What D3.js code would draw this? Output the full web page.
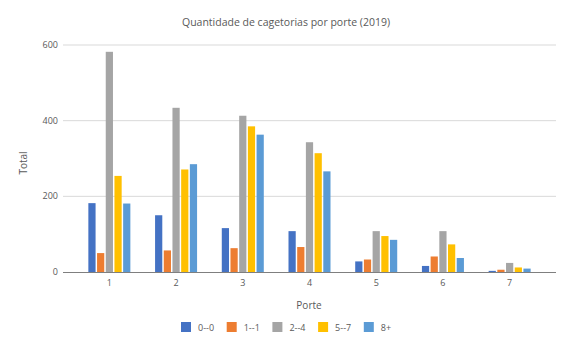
<!DOCTYPE html>
<html>
<head>
<meta charset="utf-8">
<script src="https://cdn.jsdelivr.net/npm/d3@7"></script>
<style>
  body { margin: 0; background: #fff; }
  text { font-family: "Open Sans", sans-serif; fill: #595959; }
</style>
</head>
<body>
<div id="chart"></div>
<script>
(function(){
// categories (porte) and series (faixas)
const portes = ["1", "2", "3", "4", "5", "6", "7"];
const series = ["0--0", "1--1", "2--4", "5--7", "8+"];
const colors = ["#4472C4", "#ED7D31", "#A5A5A5", "#FFC000", "#5B9BD5"];
const s00 = [182, 150, 116, 108, 28, 16, 3];
const s11 = [50, 57, 63, 66, 33, 41, 6];
const s24 = [582, 434, 413, 343, 108, 108, 24];
const s57 = [254, 271, 385, 314, 95, 73, 12];
const s8p = [181, 285, 363, 266, 85, 37, 9];
const yTicks = [0, 200, 400, 600];

const values = [s00, s11, s24, s57, s8p];

const width = 573, height = 351;
const svg = d3.select("#chart").append("svg")
    .attr("width", width)
    .attr("height", height);

// plot area
const top = 45, bottom = 272;
const gridLeft = 63, gridRight = 556;

const x0 = d3.scaleBand().domain(portes).range([76, 543]).paddingInner(0).paddingOuter(0);
const x1 = d3.scaleBand().domain(series).range([x0.bandwidth() / 2 - 21, x0.bandwidth() / 2 + 21]).paddingInner(0.17);
const y = d3.scaleLinear().domain([0, 600]).range([bottom, top]);

// title
svg.append("text")
    .attr("x", 286).attr("y", 26)
    .attr("text-anchor", "middle")
    .style("font-size", "10.5px")
    .text("Quantidade de cagetorias por porte (2019)");

// gridlines
svg.append("g").selectAll("line")
    .data(yTicks.filter(d => d > 0))
    .join("line")
    .attr("x1", gridLeft).attr("x2", gridRight)
    .attr("y1", d => y(d)).attr("y2", d => y(d))
    .attr("stroke", "#d9d9d9").attr("stroke-width", 1);

// y tick labels
svg.append("g").selectAll("text")
    .data(yTicks)
    .join("text")
    .attr("x", 58).attr("y", d => y(d) + 3)
    .attr("text-anchor", "end")
    .style("font-size", "9px")
    .text(d => d);

// bars
const groups = svg.append("g").selectAll("g")
    .data(portes)
    .join("g")
    .attr("transform", d => `translate(${x0(d)},0)`);

groups.selectAll("rect")
    .data((p, i) => series.map((s, j) => ({ s, j, v: values[j][i] })))
    .join("rect")
    .attr("x", d => x1(d.s))
    .attr("width", x1.bandwidth())
    .attr("y", d => y(d.v))
    .attr("height", d => bottom - y(d.v))
    .attr("fill", d => colors[d.j]);

// x axis line
svg.append("line")
    .attr("x1", gridLeft).attr("x2", gridRight)
    .attr("y1", bottom + 0.5).attr("y2", bottom + 0.5)
    .attr("stroke", "#7f7f7f").attr("stroke-width", 1);

// x tick labels
svg.append("g").selectAll("text")
    .data(portes)
    .join("text")
    .attr("x", d => x0(d) + x0.bandwidth() / 2)
    .attr("y", 286)
    .attr("text-anchor", "middle")
    .style("font-size", "9px")
    .text(d => d);

// axis titles
svg.append("text")
    .attr("x", 309).attr("y", 309)
    .attr("text-anchor", "middle")
    .style("font-size", "10px")
    .text("Porte");

svg.append("text")
    .attr("transform", "translate(27,163) rotate(-90)")
    .attr("text-anchor", "middle")
    .style("font-size", "10px")
    .text("Total");

// legend
const legend = svg.append("g").selectAll("g")
    .data(series)
    .join("g")
    .attr("transform", (d, i) => `translate(${181 + i * 45.7},322)`);

legend.append("rect")
    .attr("width", 10).attr("height", 10)
    .attr("fill", (d, i) => colors[i]);

legend.append("text")
    .attr("x", 17).attr("y", 8.5)
    .style("font-size", "9px")
    .text(d => d);
})();
</script>
</body>
</html>
